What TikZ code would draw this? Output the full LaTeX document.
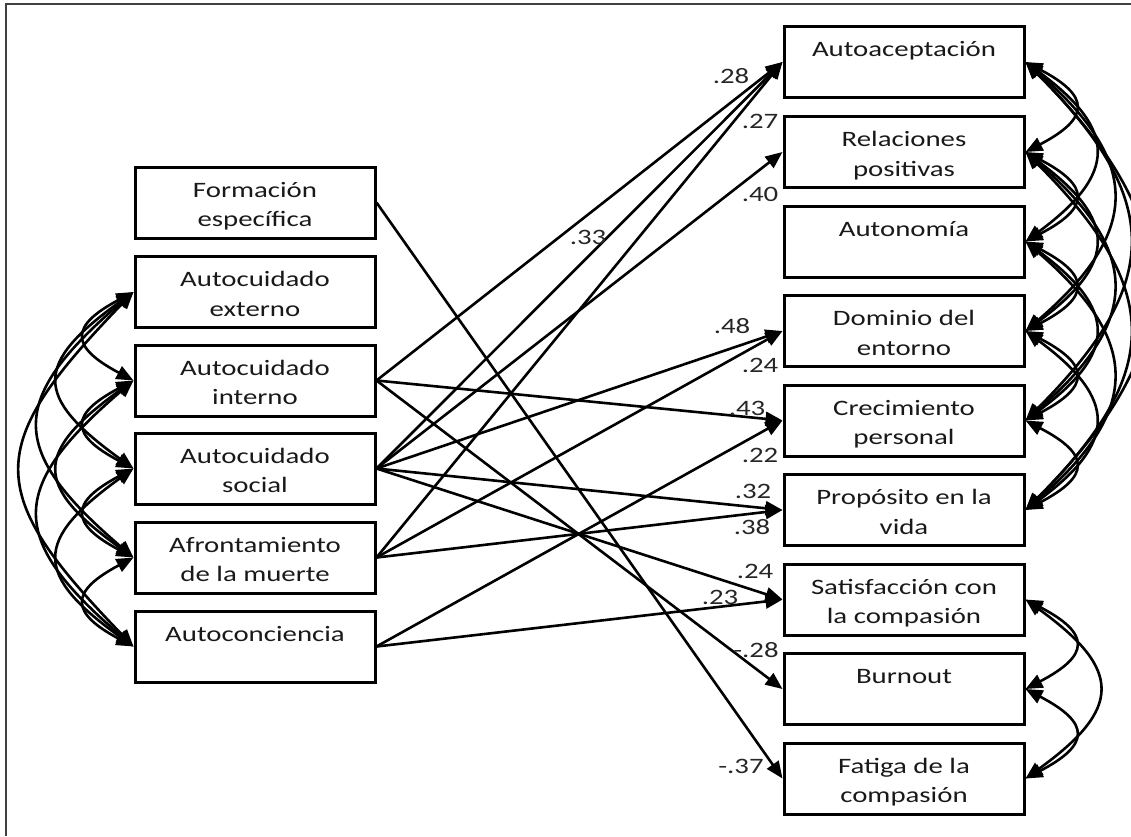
\documentclass[tikz,border=0pt]{standalone}
\usepackage{fontspec}
\setmainfont{Carlito}[FakeStretch=1.31]
\usetikzlibrary{arrows.meta}

% box text: first baseline 30pt below the top edge, lines 29.5pt apart
\newcommand\boxlines[1]{\parbox[c][71pt][t]{240pt}{\centering\fontsize{22}{29.5}\selectfont\rule{0pt}{30pt}#1\par}}
% covariance arcs on the left and right sides
\newcommand\covL[4]{\draw[cov] (#1.west) .. controls +(-#3,#4) and +(-#3,-#4) .. (#2.west);}
\newcommand\covR[4]{\draw[cov] (#1.east) .. controls +(#3,#4) and +(#3,-#4) .. (#2.east);}

\begin{document}
\begin{tikzpicture}[x=1pt, y=-1pt,
  varbox/.style={draw, line width=3pt, inner sep=0pt, text=black!90},
  regr/.style={line width=2.6pt, -{Triangle[length=17pt,width=14pt]}},
  cov/.style={line width=2.6pt, {Triangle[length=17pt,width=14pt]}-{Triangle[length=17pt,width=14pt]}},
  coef/.style={font=\fontsize{22}{26}\selectfont, text=black!85, inner sep=0pt},
  frame/.style={line width=2.2pt, black!75}]
\useasboundingbox (0,0) rectangle (1131,836);

% outer frame (top and left sides)
\coordinate (tr) at (1131,4);
\coordinate (tl) at (6,4);
\coordinate (bl) at (6,836);
\draw[frame] (tr) -- (tl) -- (bl);

% predictors
\node[varbox] (fe) at (255,202.5) {\boxlines{Formación\\específica}};
\node[varbox] (ae) at (255,292)   {\boxlines{Autocuidado\\externo}};
\node[varbox] (ai) at (255,380.5) {\boxlines{Autocuidado\\interno}};
\node[varbox] (as) at (255,468.5) {\boxlines{Autocuidado\\social}};
\node[varbox] (af) at (255,557.5) {\boxlines{Afrontamiento\\de la muerte}};
\node[varbox] (ac) at (255,646.5) {\boxlines{Autoconciencia}};

% outcomes
\node[varbox] (acep)  at (904,62)    {\boxlines{Autoaceptación}};
\node[varbox] (rel)   at (904,152)   {\boxlines{Relaciones\\positivas}};
\node[varbox] (auton) at (904,241.5) {\boxlines{Autonomía}};
\node[varbox] (dom)   at (904,331)   {\boxlines{Dominio del\\entorno}};
\node[varbox] (crec)  at (904,420.5) {\boxlines{Crecimiento\\personal}};
\node[varbox] (prop)  at (904,510)   {\boxlines{Propósito en la\\vida}};
\node[varbox] (sat)   at (904,599.5) {\boxlines{Satisfacción con\\la compasión}};
\node[varbox] (burn)  at (904,689)   {\boxlines{Burnout}};
\node[varbox] (fat)   at (904,778.5) {\boxlines{Fatiga de la\\compasión}};

% regression paths
\draw[regr] (fe.east) -- (fat.west);
\draw[regr] (ai.east) -- (acep.west);
\draw[regr] (ai.east) -- (crec.west);
\draw[regr] (ai.east) -- (burn.west);
\draw[regr] (as.east) -- (acep.west);
\draw[regr] (as.east) -- (rel.west);
\draw[regr] (as.east) -- (dom.west);
\draw[regr] (as.east) -- (prop.west);
\draw[regr] (as.east) -- (sat.west);
\draw[regr] (af.east) -- (acep.west);
\draw[regr] (af.east) -- (dom.west);
\draw[regr] (af.east) -- (prop.west);
\draw[regr] (ac.east) -- (crec.west);
\draw[regr] (ac.east) -- (sat.west);

% path coefficients
\node[coef] (k1)  at (731,76)  {.28};
\node[coef] (k2)  at (760,121) {.27};
\node[coef] (k3)  at (760,194) {.40};
\node[coef] (k4)  at (588,237) {.33};
\node[coef] (k5)  at (732,326) {.48};
\node[coef] (k6)  at (760,365) {.24};
\node[coef] (k7)  at (747,408) {.43};
\node[coef] (k8)  at (760,455) {.22};
\node[coef] (k9)  at (753,491) {.32};
\node[coef] (k10) at (752,527) {.38};
\node[coef] (k11) at (755,571) {.24};
\node[coef] (k12) at (720,597) {.23};
\node[coef] (k13) at (756,650) {-.28};
\node[coef] (k14) at (741,766) {-.37};

% covariances among predictors
\covL{ae}{ai}{64}{34}
\covL{ai}{as}{64}{34}
\covL{as}{af}{64}{34}
\covL{af}{ac}{64}{34}
\covL{ae}{as}{100}{72}
\covL{ai}{af}{100}{72}
\covL{as}{ac}{100}{72}
\covL{ae}{af}{126}{108}
\covL{ai}{ac}{126}{108}
\covL{ae}{ac}{150}{155}

% covariances among well-being outcomes
\covR{acep}{rel}{65}{34}
\covR{rel}{auton}{65}{34}
\covR{auton}{dom}{65}{34}
\covR{dom}{crec}{65}{34}
\covR{crec}{prop}{65}{34}
\covR{acep}{auton}{92}{68}
\covR{rel}{dom}{92}{68}
\covR{auton}{crec}{92}{68}
\covR{dom}{prop}{92}{68}
\covR{acep}{dom}{116}{100}
\covR{rel}{crec}{116}{100}
\covR{auton}{prop}{116}{100}
\covR{acep}{crec}{138}{138}
\covR{rel}{prop}{138}{138}
\covR{acep}{prop}{165}{165}

% covariances among quality-of-life outcomes
\covR{sat}{burn}{65}{34}
\covR{burn}{fat}{65}{34}
\covR{sat}{fat}{97}{70}
\end{tikzpicture}
\end{document}
